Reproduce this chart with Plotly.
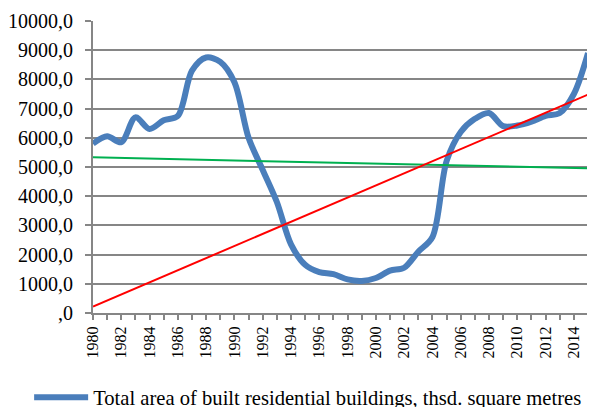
import plotly.graph_objects as go

years = list(range(1980, 2016))
built_area = [5800, 6050, 5850, 6700, 6300, 6600, 6750, 8300, 8750, 8600,
              7900, 6000, 4900, 3800, 2350, 1650, 1400, 1330, 1150, 1100,
              1200, 1450, 1550, 2100, 2600, 5200, 6200, 6650, 6850, 6400,
              6420, 6550, 6750, 6850, 7500, 8900]
trend_years = [1980, 2015]
red_trend = [220, 7480]
green_trend = [5330, 4960]

y_tickvals = list(range(0, 10001, 1000))
y_ticktext = [",0"] + [f"{v},0" for v in y_tickvals[1:]]
x_tickvals = list(range(1980, 2015, 2))

serif = "Liberation Serif, Times New Roman, serif"

fig = go.Figure()
fig.add_trace(go.Scatter(x=years, y=built_area, mode="lines", line_shape="spline",
                         line=dict(color="#4A7EBB", width=6, smoothing=0.9),
                         name="Total area of built residential buildings, thsd. square metres"))
fig.add_trace(go.Scatter(x=trend_years, y=green_trend, mode="lines",
                         line=dict(color="#00B050", width=2), showlegend=False))
fig.add_trace(go.Scatter(x=trend_years, y=red_trend, mode="lines",
                         line=dict(color="#FF0000", width=2), showlegend=False))

# the page body has an 8px margin, so the figure is drawn from (8, 8)
fig.update_layout(
    width=587, height=399,
    margin=dict(l=85, r=7, t=13, b=94),
    paper_bgcolor="white", plot_bgcolor="white",
    font=dict(family=serif, size=17, color="#000000"),
    showlegend=True,
    legend=dict(orientation="h", xref="container", yref="container",
                x=0.036, y=0.024, xanchor="left", yanchor="middle",
                font=dict(family=serif, size=20.6, color="#000000"),
                itemwidth=54, bgcolor="rgba(0,0,0,0)"),
    xaxis=dict(range=[1980, 2015], tickmode="array", tickvals=x_tickvals,
               ticktext=[str(v) for v in x_tickvals], tickangle=-90,
               automargin=False,
               ticks="outside", ticklen=5, tickcolor="#868686", tickwidth=1.5,
               minor=dict(dtick=1, tick0=1980, ticks="outside", ticklen=5,
                          tickcolor="#868686", tickwidth=1.5, showgrid=False),
               showline=True, linecolor="#868686", linewidth=2,
               showgrid=False, zeroline=False,
               tickfont=dict(family=serif, size=16, color="#000000")),
    yaxis=dict(range=[0, 10000], tickmode="array", tickvals=y_tickvals,
               ticktext=y_ticktext, ticks="outside", ticklen=6,
               ticklabelstandoff=8,
               automargin=False,
               tickcolor="#868686", tickwidth=2,
               showline=True, linecolor="#868686", linewidth=2,
               showgrid=True, gridcolor="#868686", gridwidth=2,
               zeroline=False,
               tickfont=dict(family=serif, size=20, color="#000000")),
)

fig.write_html("out.html")
